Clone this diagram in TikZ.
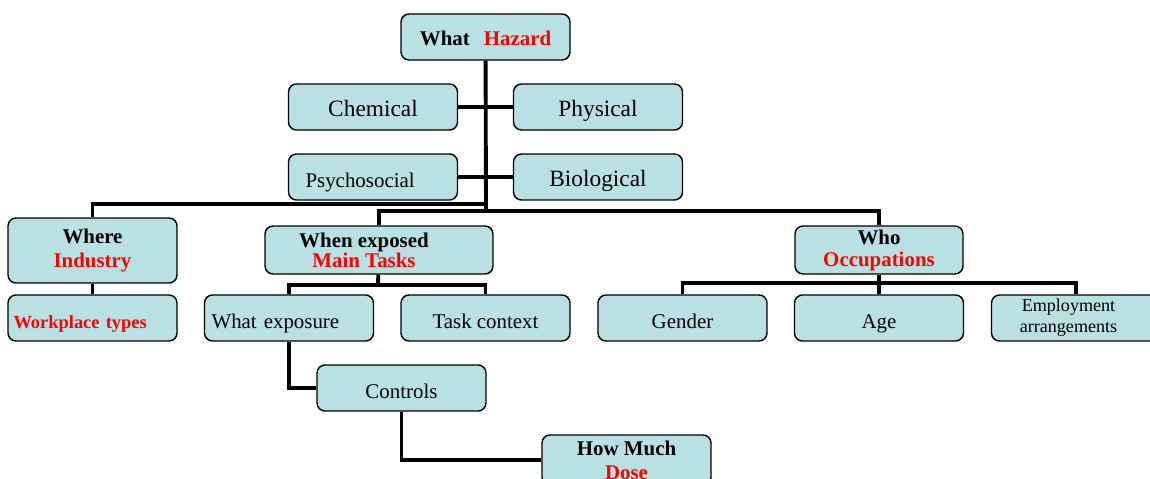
\documentclass[tikz,border=0pt]{standalone}
\usepackage{fontspec}
\setmainfont{Liberation Serif}
\usepackage{xcolor}
\usepackage{tikz}
\usetikzlibrary{positioning}

\definecolor{boxfill}{RGB}{185,224,227}

\begin{document}
\begin{tikzpicture}[
    x=0.02cm, y=-0.02cm,
    box/.style={rectangle, draw, rounded corners=0.16cm, fill=boxfill, line width=0.8pt, minimum width=3.38cm, minimum height=0.92cm, inner sep=2pt, text height=11.4pt, text depth=0pt, font=\fontsize{11.9}{13}\selectfont},
    bigbox/.style={box, text height=11pt, font=\fontsize{13.3}{15}\selectfont},
    headbox/.style={rectangle, draw, rounded corners=0.16cm, fill=boxfill, line width=0.8pt, minimum width=3.38cm, minimum height=0.92cm, inner sep=2pt, align=center, font=\fontsize{11.9}{13.6}\selectfont\bfseries},
    conn/.style={line width=2.2pt}
]
\clip (0,0) rectangle (1150,479);

% What
\node[headbox, text height=10pt, text depth=0pt] (hazard) at (485.5,37) {What\hspace{0.28cm}\textcolor{red}{Hazard}};
\node[bigbox] (chem) at (373,107) {Chemical};
\node[bigbox] (phys) at (598,107) {Physical};
\node[box, text width=2.7cm, align=left] (psycho) at (373,177) {Psychosocial};
\node[bigbox] (bio) at (598,177) {Biological};

% Where
\node[headbox, minimum height=1.3cm, font=\fontsize{11.9}{14.2}\selectfont\bfseries] (where) at (92.5,250.5) {Where\\\textcolor{red}{Industry}};
\node[box, text width=3.16cm, align=left, font=\fontsize{10.5}{12}\selectfont\bfseries] (workplace) at (92.5,318) {\textcolor{red}{Workplace types}};

% When
\node[headbox, minimum width=4.56cm, minimum height=0.96cm, font=\fontsize{11.9}{11.3}\selectfont\bfseries] (when) at (379,250) {When exposed\hspace*{0.6cm}\\\textcolor{red}{Main Tasks}\hspace*{0.6cm}};
\node[box, text width=3.1cm, align=left] (whatexp) at (289,318) {What exposure};
\node[box] (task) at (485.5,318) {Task context};
\node[box] (controls) at (401.5,388) {Controls};
\node[headbox, minimum height=1.0cm] (howmuch) at (626.5,460) {How Much\\\textcolor{red}{Dose}};

% Who
\node[headbox, minimum width=3.36cm, font=\fontsize{11.9}{12.5}\selectfont\bfseries] (who) at (879,250) {Who\\\textcolor{red}{Occupations}};
\node[box] (gender) at (682.5,318) {Gender};
\node[box] (age) at (879,318) {Age};
\node[headbox, font=\fontsize{10.3}{12}\selectfont] (employ) at (1076,318) {Employment\hspace*{0.3cm}\\arrangements\hspace*{0.3cm}};

% Connectors
\coordinate (hub) at (486,211);
\coordinate (splitL) at (486,204);
\coordinate (whenbar) at (378,285);
\coordinate (whobar) at (879,283);

\draw[conn] (hazard) -- (hub);
\draw[conn] (chem) -- (phys);
\draw[conn] (psycho) -- (bio);
\draw[conn] (splitL) -| (where);
\draw[conn] (when) |- (hub) -| (who);
\draw[conn] (where) -- (workplace);
\draw[conn] (when) -- (whenbar);
\draw[conn] (whatexp) |- (whenbar) -| (task);
\draw[conn] (who) -- (age);
\draw[conn] (gender) |- (whobar) -| (employ);
\draw[conn] (whatexp) |- (controls);
\draw[conn] (controls) |- (howmuch);

\end{tikzpicture}
\end{document}
